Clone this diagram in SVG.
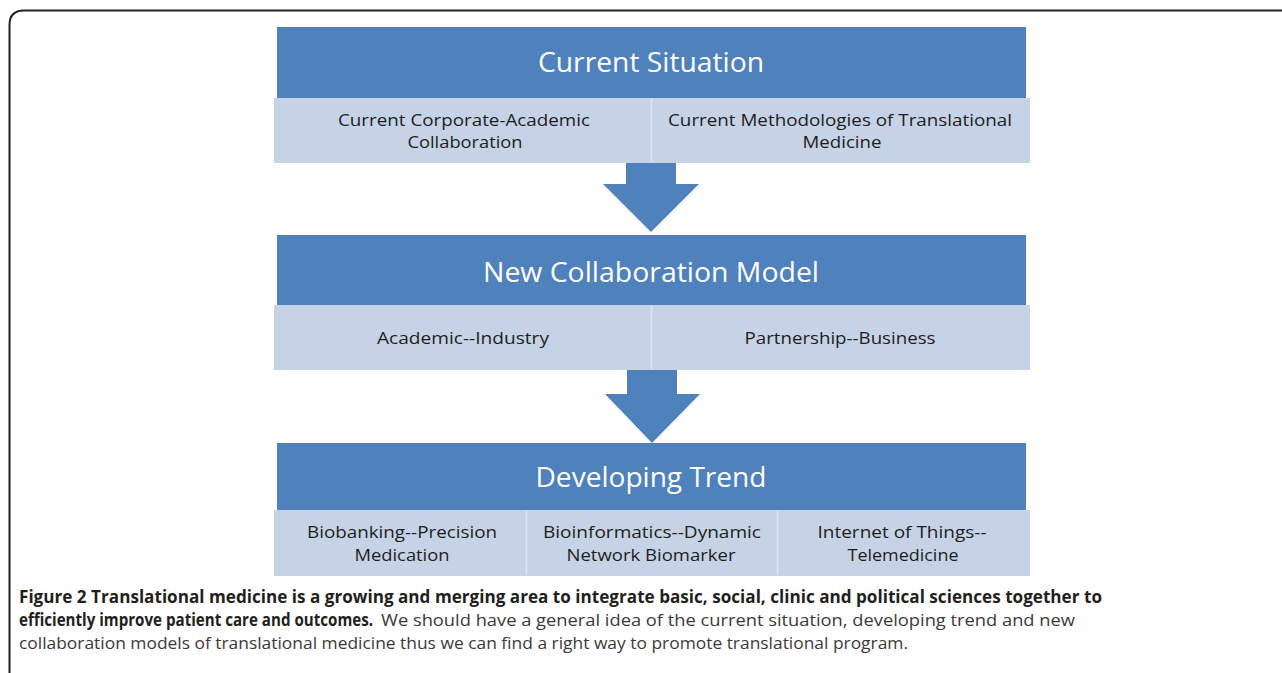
<svg xmlns="http://www.w3.org/2000/svg" width="1282" height="673" viewBox="0 0 1282 673">
<style>
.hd{fill:#4f81bd}
.cell{fill:#c6d3e6}
.div{stroke:#dde5f0;stroke-width:1.5}
.ht{font-family:"Open Sans",sans-serif;font-size:28px;fill:#ffffff;text-anchor:middle}
.st{font-family:"Open Sans",sans-serif;font-size:16.5px;fill:#1e1e1e;text-anchor:middle}
.cb{font-family:"Open Sans",sans-serif;font-size:17px;font-weight:bold;fill:#231f20}
.cr{font-family:"Open Sans",sans-serif;font-size:17px;fill:#3a3a3a}
.arr{fill:#4f81bd}
</style>
<path d="M9.5 673 V25 Q9.5 10.5 24 10.5 H1282" fill="none" stroke="#222" stroke-width="2"/>

<g id="current-situation">
<rect class="cell" x="274" y="98" width="756" height="65"/>
<rect class="hd" x="277" y="27" width="749" height="71"/>
<line class="div" x1="651.5" y1="99" x2="651.5" y2="162"/>
<text class="ht" x="651" y="72" textLength="226" lengthAdjust="spacingAndGlyphs">Current Situation</text>
<text class="st" x="464" y="126" textLength="252" lengthAdjust="spacingAndGlyphs">Current Corporate-Academic</text>
<text class="st" x="465" y="148" textLength="115" lengthAdjust="spacingAndGlyphs">Collaboration</text>
<text class="st" x="840" y="126" textLength="344" lengthAdjust="spacingAndGlyphs">Current Methodologies of Translational</text>
<text class="st" x="842" y="148" textLength="79" lengthAdjust="spacingAndGlyphs">Medicine</text>
</g>

<g id="new-collaboration-model">
<rect class="cell" x="274" y="305" width="756" height="65"/>
<rect class="hd" x="277" y="235" width="749" height="70"/>
<line class="div" x1="651.5" y1="306" x2="651.5" y2="369"/>
<text class="ht" x="651" y="282" textLength="336" lengthAdjust="spacingAndGlyphs">New Collaboration Model</text>
<text class="st" x="463" y="344" textLength="172" lengthAdjust="spacingAndGlyphs">Academic--Industry</text>
<text class="st" x="840" y="344" textLength="191" lengthAdjust="spacingAndGlyphs">Partnership--Business</text>
</g>

<g id="developing-trend">
<rect class="cell" x="274" y="510" width="756" height="66"/>
<rect class="hd" x="277" y="443" width="749" height="67"/>
<line class="div" x1="526.5" y1="511" x2="526.5" y2="575"/>
<line class="div" x1="777.5" y1="511" x2="777.5" y2="575"/>
<text class="ht" x="651" y="487" textLength="231" lengthAdjust="spacingAndGlyphs">Developing Trend</text>
<text class="st" x="402" y="538" textLength="190" lengthAdjust="spacingAndGlyphs">Biobanking--Precision</text>
<text class="st" x="402" y="561" textLength="95" lengthAdjust="spacingAndGlyphs">Medication</text>
<text class="st" x="652" y="538" textLength="218" lengthAdjust="spacingAndGlyphs">Bioinformatics--Dynamic</text>
<text class="st" x="651" y="561" textLength="169" lengthAdjust="spacingAndGlyphs">Network Biomarker</text>
<text class="st" x="902" y="538" textLength="169" lengthAdjust="spacingAndGlyphs">Internet of Things--</text>
<text class="st" x="903" y="561" textLength="111" lengthAdjust="spacingAndGlyphs">Telemedicine</text>
</g>

<g id="connectors">
<polygon class="arr" points="626,163 676,163 676,184 699,184 651,232 603,184 626,184"/>
<polygon class="arr" points="627,370 677,370 677,394 700,394 652,443 605,394 627,394"/>
</g>

<g id="caption">
<text class="cb" x="19" y="603" textLength="1083" lengthAdjust="spacingAndGlyphs">Figure 2 Translational medicine is a growing and merging area to integrate basic, social, clinic and political sciences together to</text>
<text class="cb" x="19" y="626" textLength="354" lengthAdjust="spacingAndGlyphs">efficiently improve patient care and outcomes.</text>
<text class="cr" x="381" y="626" textLength="694" lengthAdjust="spacingAndGlyphs">We should have a general idea of the current situation, developing trend and new</text>
<text class="cr" x="19" y="649" textLength="889" lengthAdjust="spacingAndGlyphs">collaboration models of translational medicine thus we can find a right way to promote translational program.</text>
</g>
</svg>
